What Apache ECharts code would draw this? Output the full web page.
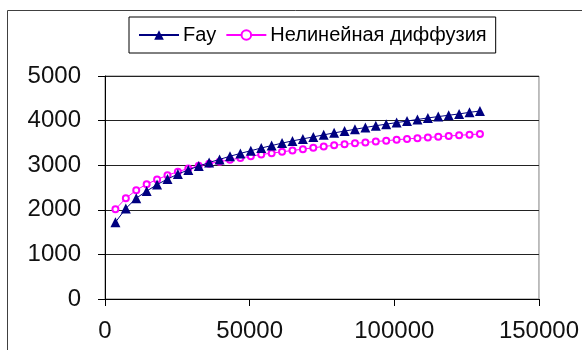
<!DOCTYPE html>
<html>
<head>
<meta charset="utf-8">
<script src="https://cdn.jsdelivr.net/npm/echarts@6/dist/echarts.min.js"></script>
<style>
  html, body { margin: 0; padding: 0; background: #fff; }
  #chart { width: 582px; height: 350px; }
</style>
</head>
<body>
<div id="chart"></div>
<script>
// Time, s (hourly steps)
var timeValues = [3600, 7200, 10800, 14400, 18000, 21600, 25200, 28800, 32400, 36000,
  39600, 43200, 46800, 50400, 54000, 57600, 61200, 64800, 68400, 72000,
  75600, 79200, 82800, 86400, 90000, 93600, 97200, 100800, 104400, 108000,
  111600, 115200, 118800, 122400, 126000, 129600];

// Slick size by Fay
var fayValues = [1720, 2030, 2260, 2420, 2565, 2690, 2800, 2895, 2980, 3060,
  3130, 3200, 3265, 3325, 3385, 3440, 3495, 3545, 3590, 3635,
  3680, 3725, 3765, 3805, 3845, 3885, 3920, 3955, 3990, 4025,
  4060, 4090, 4120, 4150, 4185, 4215];

// Slick size by nonlinear diffusion
var diffusionValues = [2010, 2260, 2440, 2575, 2680, 2775, 2855, 2925, 2985, 3035,
  3080, 3120, 3160, 3200, 3240, 3270, 3300, 3330, 3360, 3390,
  3420, 3445, 3470, 3490, 3510, 3530, 3550, 3570, 3590, 3605,
  3620, 3640, 3655, 3670, 3685, 3700];

var seriesNames = ['Fay', 'Нелинейная диффузия'];
var yTicks = { min: 0, max: 5000, step: 1000 };
var xTicks = { min: 0, max: 150000, step: 50000 };

function pairs(xs, ys) {
  return xs.map(function (x, i) { return [x, ys[i]]; });
}

// plain integers, no thousands separator
function plain(v) { return String(v); }

var font = '"Liberation Sans", Arial, sans-serif';
var chart = echarts.init(document.getElementById('chart'), null, { renderer: 'canvas' });

chart.setOption({
  animation: false,
  backgroundColor: '#fff',
  graphic: [{
    type: 'rect',
    shape: { x: 7.5, y: 10.5, width: 800, height: 600 },
    style: { fill: 'none', stroke: '#404040', lineWidth: 1 },
    silent: true,
    z: 100
  }],
  legend: {
    left: 129,
    top: 17,
    padding: [8, 9, 8, 9],
    itemGap: 9,
    itemWidth: 40,
    itemHeight: 12,
    borderColor: '#000',
    borderWidth: 1,
    textStyle: { fontFamily: font, fontSize: 20, color: '#000', padding: [0, 0, 0, -1] },
    data: seriesNames
  },
  grid: {
    left: 105,
    right: 41,
    top: 76,
    bottom: 51,
    show: true,
    borderColor: '#808080',
    borderWidth: 1
  },
  xAxis: {
    type: 'value',
    min: xTicks.min,
    max: xTicks.max,
    interval: xTicks.step,
    axisLine: { show: true, lineStyle: { color: '#000', width: 1 } },
    axisTick: { show: true, inside: false, length: 7, lineStyle: { color: '#000' } },
    splitLine: { show: false },
    axisLabel: { fontFamily: font, fontSize: 24, color: '#111', margin: 20, formatter: plain }
  },
  yAxis: {
    type: 'value',
    min: yTicks.min,
    max: yTicks.max,
    interval: yTicks.step,
    axisLine: { show: true, lineStyle: { color: '#000', width: 1 } },
    axisTick: { show: true, inside: false, length: 7, lineStyle: { color: '#000' } },
    splitLine: { show: true, lineStyle: { color: '#222', width: 1 } },
    axisLabel: { fontFamily: font, fontSize: 24, color: '#111', margin: 24, formatter: plain }
  },
  series: [
    {
      name: seriesNames[0],
      type: 'line',
      data: pairs(timeValues, fayValues),
      symbol: 'triangle',
      symbolSize: 10,
      lineStyle: { color: '#000080', width: 1 },
      itemStyle: { color: '#000080' },
      z: 3
    },
    {
      name: seriesNames[1],
      type: 'line',
      data: pairs(timeValues, diffusionValues),
      symbol: 'emptyCircle',
      symbolSize: 6,
      lineStyle: { color: '#ff00ff', width: 1 },
      itemStyle: { color: '#ff00ff', borderWidth: 1.2 },
      z: 2
    }
  ]
});
</script>
</body>
</html>
